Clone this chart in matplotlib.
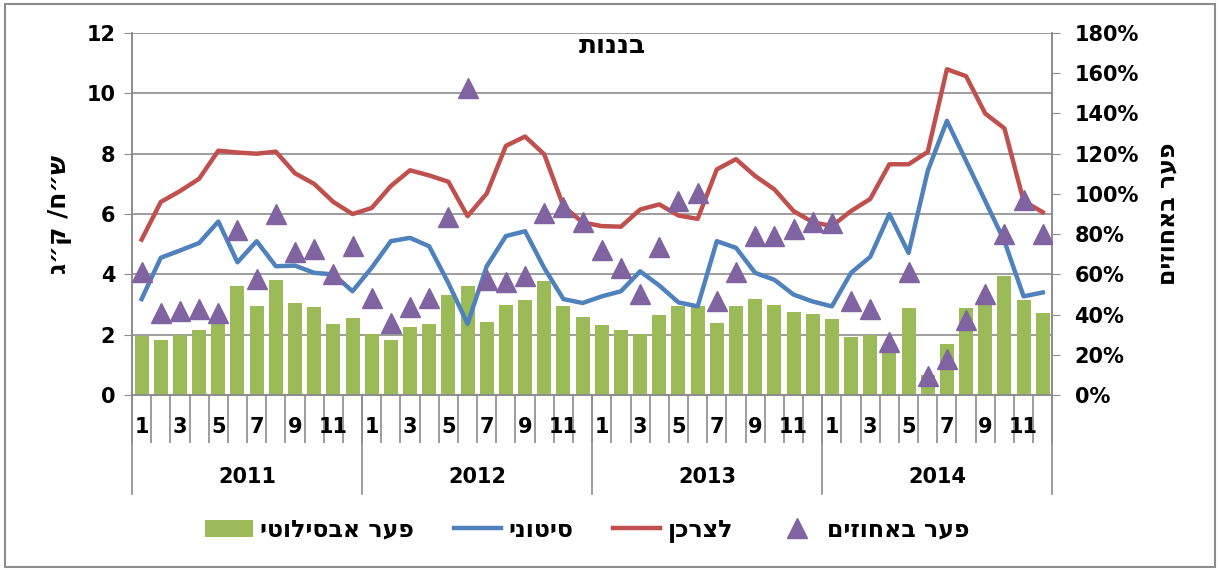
import matplotlib
matplotlib.use('Agg')
import matplotlib.pyplot as plt
import matplotlib.transforms as mtransforms
from matplotlib.ticker import PercentFormatter
from matplotlib.patches import Rectangle
import numpy as np

plt.rcParams['font.family'] = ['DejaVu Sans', 'Liberation Sans']
plt.rcParams['font.weight'] = 'bold'

years = ['2011', '2012', '2013', '2014']
months = ['1', '', '3', '', '5', '', '7', '', '9', '', '11', '']

# retail price (red), wholesale (blue), absolute gap (bars), gap in percent (triangles)
retail = [5.15, 6.4, 6.76, 7.17, 8.1, 8.04, 8.0, 8.07, 7.35, 7.0, 6.4, 6.0,
          6.2, 6.93, 7.45, 7.28, 7.07, 5.93, 6.68, 8.26, 8.57, 7.98, 6.26, 5.72,
          5.6, 5.58, 6.15, 6.32, 5.95, 5.84, 7.48, 7.82, 7.26, 6.82, 6.1, 5.73,
          5.6, 6.1, 6.5, 7.65, 7.65, 8.06, 10.8, 10.57, 9.33, 8.84, 6.43, 6.06]
wholesale = [3.18, 4.55, 4.79, 5.04, 5.75, 4.4, 5.1, 4.27, 4.29, 4.05, 4.0, 3.44,
             4.22, 5.1, 5.21, 4.93, 3.71, 2.36, 4.27, 5.27, 5.43, 4.21, 3.18, 3.05,
             3.27, 3.44, 4.1, 3.63, 3.07, 2.94, 5.1, 4.88, 4.05, 3.82, 3.33, 3.1,
             2.94, 4.05, 4.58, 6.0, 4.71, 7.43, 9.09, 7.76, 6.43, 5.1, 3.27, 3.4]
gap_abs = [1.96, 1.83, 2.0, 2.14, 2.38, 3.6, 2.94, 3.82, 3.05, 2.92, 2.36, 2.55,
           2.03, 1.83, 2.25, 2.36, 3.31, 3.6, 2.43, 2.98, 3.16, 3.79, 2.96, 2.6,
           2.33, 2.16, 2.03, 2.65, 2.94, 2.94, 2.38, 2.96, 3.18, 2.99, 2.75, 2.68,
           2.52, 1.92, 2.0, 1.6, 2.88, 0.65, 1.7, 2.88, 3.07, 3.94, 3.14, 2.72]
gap_pct = [61, 40.6, 42, 42.6, 41, 82, 57.5, 90, 71, 72.5, 60, 74,
           48, 36, 43.6, 48, 88.4, 152.6, 57, 56.4, 59, 90.7, 93.7, 86,
           72, 63, 50, 73.5, 96.5, 100.7, 47, 61, 79, 79, 82.6, 86,
           85.4, 47, 43, 26.5, 61, 9.5, 17.7, 37.3, 50, 80, 97, 80]


def heb(s):
    # matplotlib has no bidi, so flip hebrew strings by hand
    return s[::-1]


grey = '#8c8c8c'
x = np.arange(len(retail))

fig = plt.figure(figsize=(12.19, 5.70), dpi=100)
ax = fig.add_axes([0.1083, 0.307, 0.755, 0.635])
ax2 = ax.twinx()

bars = ax.bar(x, gap_abs, width=0.73, color='#9BBB59', zorder=2)
l_blue, = ax.plot(x, wholesale, color='#4F81BD', lw=3.2, zorder=3)
l_red, = ax.plot(x, retail, color='#C0504D', lw=3.2, zorder=3)
tri, = ax2.plot(x, np.array(gap_pct) / 100, ls='none', marker='^', ms=15,
                color='#8064A2', zorder=4)

ax.set_xlim(-0.5, len(x) - 0.5)
ax.set_ylim(0, 12)
ax.set_yticks(range(0, 13, 2))
ax2.set_ylim(0, 1.8)
ax2.set_yticks(np.arange(0, 1.81, 0.2))
ax2.yaxis.set_major_formatter(PercentFormatter(1.0, decimals=0))

ax.set_axisbelow(True)
ax.yaxis.grid(True, color=grey, lw=1.2)
for a in (ax, ax2):
    a.spines['top'].set_visible(False)
    for s in ('left', 'right', 'bottom'):
        a.spines[s].set_color(grey)
        a.spines[s].set_linewidth(1.2)
ax.tick_params(axis='y', length=6, color=grey, labelsize=15, pad=6)
ax2.tick_params(axis='y', length=6, color=grey, labelsize=15, pad=10)

# month separators as tick marks, labels as text
ax.set_xticks(np.arange(len(x) + 1) - 0.5)
ax.set_xticklabels([])
ax.tick_params(axis='x', length=34.5, color=grey, width=1.2)

trans = mtransforms.blended_transform_factory(ax.transData, ax.transAxes)
for i in range(len(x)):
    lab = months[i % 12]
    if lab:
        ax.text(i, -0.088, lab, transform=trans, ha='center', va='center',
                fontsize=15, fontweight='bold')
for k, yr in enumerate(years):
    ax.text(k * 12 + 5.5, -0.226, yr, transform=trans, ha='center', va='center',
            fontsize=15, fontweight='bold')
for k in range(len(years) + 1):
    ax.plot([k * 12 - 0.5, k * 12 - 0.5], [0, -0.273], transform=trans,
            color=grey, lw=1.2, clip_on=False)

ax.text(0.522, 0.965, heb('בננות'), transform=ax.transAxes, ha='center', va='center',
        fontsize=19, fontweight='bold')
ax.set_ylabel(heb('ש״ח/ ק״ג'), fontsize=18, fontweight='bold', labelpad=10)
ax2.set_ylabel(heb('פער באחוזים'), fontsize=17, fontweight='bold',
               rotation=90, labelpad=12)

fig.legend([bars, l_blue, l_red, tri],
           [heb('פער אבסילוטי'), heb('סיטוני'), heb('לצרכן'), heb('פער באחוזים')],
           loc='center', bbox_to_anchor=(0.482, 0.07), ncol=4, frameon=False,
           columnspacing=1.7, handlelength=2.0, handletextpad=0.3,
           prop={'weight': 'bold', 'size': 17})

fig.patches.append(Rectangle((0.004, 0.006), 0.993, 0.987, transform=fig.transFigure,
                             fill=False, edgecolor=grey, lw=1.5))

fig.savefig('out.png', dpi=100)
